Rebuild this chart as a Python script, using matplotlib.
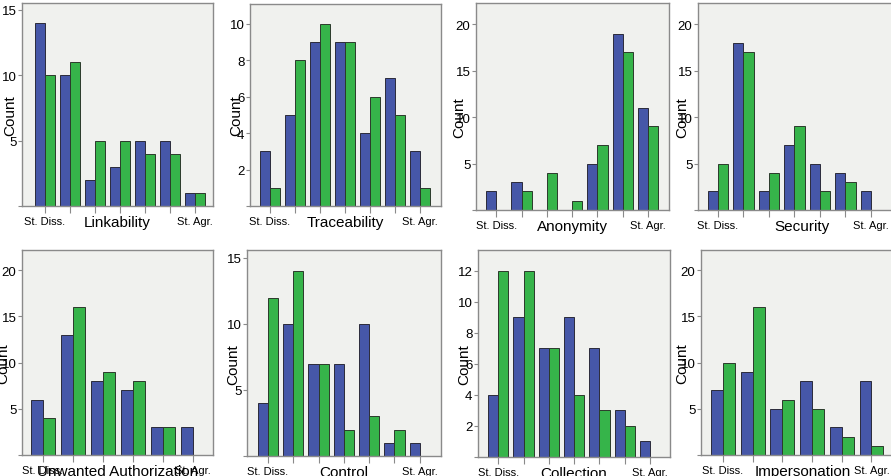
import numpy as np
from matplotlib import pyplot as plt

plt.rcParams["font.family"] = ["Liberation Sans", "DejaVu Sans"]

titles = ["Linkability", "Traceability", "Anonymity", "Security",
          "Unwanted Authorization", "Control", "Collection", "Impersonation"]

blue_counts = [
    [14, 10, 2, 3, 5, 5, 1],
    [3, 5, 9, 9, 4, 7, 3],
    [2, 3, 0, 0, 5, 19, 11],
    [2, 18, 2, 7, 5, 4, 2],
    [6, 13, 8, 7, 3, 3],
    [4, 10, 7, 7, 10, 1, 1],
    [4, 9, 7, 9, 7, 3, 1],
    [7, 9, 5, 8, 3, 8],
]
green_counts = [
    [10, 11, 5, 5, 4, 4, 1],
    [1, 8, 10, 9, 6, 5, 1],
    [0, 2, 4, 1, 7, 17, 9],
    [5, 17, 4, 9, 2, 3, 0],
    [4, 16, 9, 8, 3, 0],
    [12, 14, 7, 2, 3, 2, 0],
    [12, 12, 7, 4, 3, 2, 0],
    [10, 16, 6, 5, 2, 1],
]
scale_ends = ["St. Diss.", "St. Agr."]

# pixel boxes (left, top, right, bottom) of each panel in the collage
boxes = [(22, 4, 213, 207), (250, 5, 441, 207), (476, 4, 669, 211), (698, 4, 905, 211),
         (22, 251, 213, 456), (247, 251, 441, 457), (478, 251, 670, 458), (701, 251, 905, 456)]
ytops = [15.5, 11.07, 22.3, 22.3, 22.2, 15.6, 13.35, 22.2]
ysteps = [5, 2, 5, 5, 5, 5, 2, 5]
pad_left = [0.92, 0.8, 0.8, 0.78, 0.7, 0.83, 0.8, 0.74]
spacing = [25, 25, 25.3, 25.5, 30, 25.3, 25.3, 29.7]
ylab_off = [12, 14, 17, 16, 19, 14, 14, 19]

W, H = 891, 477
BLUE = "#4657a8"
GREEN = "#36b44a"
FRAME = "#8a8a8a"

fig = plt.figure(figsize=(W / 100, H / 100), dpi=100)
fig.patch.set_facecolor("white")

for i, name in enumerate(titles):
    l, t, r, b = boxes[i]
    ax = fig.add_axes([l / W, 1 - b / H, (r - l) / W, (b - t) / H])
    ax.set_facecolor("#f0f1ee")

    blue = np.array(blue_counts[i])
    green = np.array(green_counts[i])
    x = np.arange(len(blue))
    w = 0.4
    mb = blue > 0
    mg = green > 0
    ax.bar(x[mb] - w / 2, blue[mb], width=w, color=BLUE,
           edgecolor="#2b2b3a", linewidth=0.7)
    ax.bar(x[mg] + w / 2, green[mg], width=w, color=GREEN,
           edgecolor="#2b3a2b", linewidth=0.7)

    ax.set_xlim(-pad_left[i], -pad_left[i] + (r - l) / spacing[i])
    ax.set_ylim(0, ytops[i])

    ax.set_xticks(x)
    labels = [""] * len(x)
    labels[0], labels[-1] = scale_ends
    ax.set_xticklabels(labels, fontsize=8)
    yt = np.arange(0, ytops[i], ysteps[i])
    ax.set_yticks(yt)
    ax.set_yticklabels([""] + [str(int(v)) for v in yt[1:]], fontsize=9.5)
    ax.tick_params(axis="x", length=5, width=0.8, color=FRAME, pad=2)
    ax.tick_params(axis="y", length=3, width=0.8, color=FRAME, pad=1)

    for s in ax.spines.values():
        s.set_color(FRAME)
        s.set_linewidth(1.0)

    ax.set_xlabel(name, fontsize=11, labelpad=-8)
    ax.set_ylabel("Count", fontsize=11, va="center")
    ax.yaxis.set_label_coords(-ylab_off[i] / (r - l), 0.45)

fig.savefig("out.png", dpi=100)
